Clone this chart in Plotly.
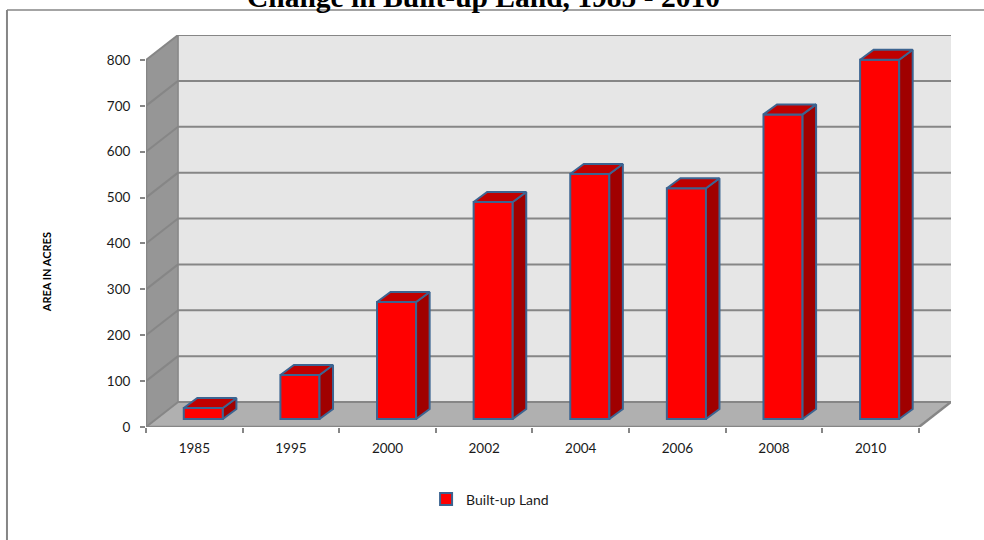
import plotly.graph_objects as go

categories = ["1985", "1995", "2000", "2002", "2004", "2006", "2008", "2010"]
values = [24, 96, 255, 473, 534, 503, 664, 783]
y_ticks = [0, 100, 200, 300, 400, 500, 600, 700, 800]

# pixel scale of the chart's oblique projection, expressed in axis units
cat_px = 96.4
val_px = 0.459
to_x = lambda px: px / cat_px
to_y = lambda px: px / val_px
wall_dx, wall_dy = to_x(32), to_y(25)
gap_dx, gap_dy = to_x(9), to_y(8)
bar_w = to_x(39)
bar_dx, bar_dy = to_x(13.5), to_y(10)
n = len(categories)
top = y_ticks[-1]

GRID = "#868686"
fig = go.Figure()

def path(xs, ys):
    return "M" + " L".join(f"{x},{y}" for x, y in zip(xs, ys)) + " Z"

def face(xs, ys, fill):
    return dict(type="path", path=path(xs, ys), xref="x", yref="y", fillcolor=fill,
                line=dict(width=0), layer="below")

def line(x0, y0, x1, y1, width=2):
    return dict(type="line", x0=x0, y0=y0, x1=x1, y1=y1, xref="x", yref="y",
                line=dict(color=GRID, width=width), layer="below")

shapes = [
    face([wall_dx, n + wall_dx, n + wall_dx, wall_dx], [wall_dy, wall_dy, top + wall_dy, top + wall_dy], "#e6e6e6"),
    face([0, wall_dx, wall_dx, 0], [0, wall_dy, top + wall_dy, top], "#969696"),
    face([0, wall_dx, n + wall_dx, n], [0, wall_dy, wall_dy, 0], "#b0b0b0"),
]
for v in y_ticks:
    shapes.append(line(0, v, wall_dx, v + wall_dy))
    shapes.append(line(wall_dx, v + wall_dy, n + wall_dx, v + wall_dy))
shapes += [line(0, 0, 0, top, 2.5), line(0, 0, n, 0, 2.5), line(n, 0, n + wall_dx, wall_dy, 2.5),
           line(wall_dx, wall_dy, wall_dx, top + wall_dy, 1.5),
           dict(type="line", xref="paper", yref="paper", x0=-0.1727, x1=-0.1727, y0=-0.3, y1=1.0638,
                line=dict(color=GRID, width=2), layer="below"),
           dict(type="line", xref="paper", yref="paper", x0=-0.1727, x1=1.05, y0=1.0638, y1=1.0638,
                line=dict(color=GRID, width=1.5), layer="below")]

centers = [i + 0.5 for i in range(n)]
EDGE = "#3c6491"
lefts = [c + gap_dx - bar_w / 2 for c in centers]
base = gap_dy

fig.add_trace(go.Bar(x=[x + bar_w / 2 for x in lefts], y=values, base=base, width=bar_w,
                     name="Built-up Land", marker=dict(color="#ff0000", line=dict(color=EDGE, width=2)),
                     showlegend=True))

def poly(xs, ys, fill):
    fig.add_trace(go.Scatter(x=xs, y=ys, mode="lines", fill="toself", fillcolor=fill,
                             line=dict(color=EDGE, width=2), showlegend=False, hoverinfo="skip"))

for x0, v in zip(lefts, values):
    x1 = x0 + bar_w
    poly([x1, x1 + bar_dx, x1 + bar_dx, x1, x1],
         [base, base + bar_dy, base + v + bar_dy, base + v, base], "#a00000")
    poly([x0, x1, x1 + bar_dx, x0 + bar_dx, x0],
         [base + v, base + v, base + v + bar_dy, base + v + bar_dy, base + v], "#c00000")

FONT = "Lato, Carlito, sans-serif"
fig.update_layout(
    width=984, height=540, autosize=False,
    paper_bgcolor="white", plot_bgcolor="white",
    margin=dict(l=146, r=33, t=35, b=113),
    font=dict(family=FONT, size=13.5, color="#1a1a1a"),
    annotations=[dict(text="<b>Change in Built-up Land, 1985 - 2010</b>", xref="paper", yref="paper",
                      x=0.419, xanchor="center", y=1.0957, yanchor="middle", showarrow=False,
                      font=dict(family="Liberation Serif", size=29.5, color="black")),
                 dict(text="<b>AREA IN ACRES</b>", xref="paper", yref="paper", x=-0.1242, xanchor="center",
                      y=0.395, yanchor="middle", textangle=-90, showarrow=False,
                      font=dict(size=11, color="black"))],
    xaxis=dict(range=[0, n + wall_dx], tickmode="array", tickvals=centers, ticktext=categories,
               ticks="", showgrid=False, zeroline=False, showline=False, ticklabelstandoff=11,
               minor=dict(tickmode="array", tickvals=list(range(n + 1)), ticks="outside", ticklen=5,
                          tickcolor=GRID, tickwidth=1.5, showgrid=False)),
    yaxis=dict(range=[0, top + wall_dy], tickmode="array", tickvals=y_ticks, ticks="outside", ticklen=5,
               tickcolor=GRID, tickwidth=1.5, showgrid=False, zeroline=False, showline=False,
               ticklabelstandoff=7),
    legend=dict(x=0.433, xref="container", xanchor="left", y=0.075, yref="container", yanchor="middle",
                orientation="h", font=dict(size=14), bgcolor="rgba(0,0,0,0)", itemwidth=30),
    shapes=shapes,
)
fig.write_html("out.html", post_script="document.body.style.margin='0';",
               config=dict(displayModeBar=False))
